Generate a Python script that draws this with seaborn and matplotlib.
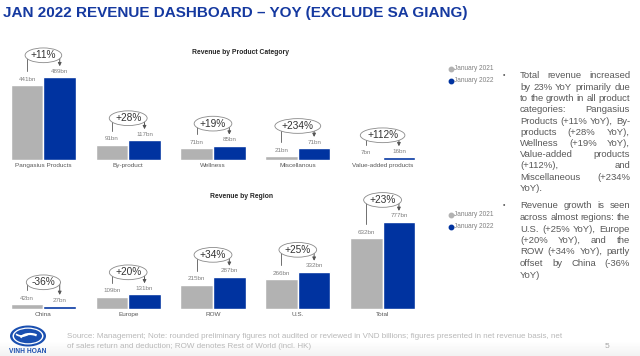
import numpy as np
import pandas as pd
import matplotlib
matplotlib.use('Agg')
import matplotlib.pyplot as plt
import seaborn as sns
from matplotlib.lines import Line2D
from matplotlib.patches import Ellipse, Arc

product_cats = ['Pangasius Products', 'By-product', 'Wellness', 'Miscellanous', 'Value-added products']
product_2021 = [441, 91, 71, 21, 7]
product_2022 = [489, 117, 85, 71, 16]
product_yoy = ['+11%', '+28%', '+19%', '+234%', '+112%']

region_cats = ['China', 'Europe', 'ROW', 'U.S.', 'Total']
region_2021 = [42, 109, 215, 266, 632]
region_2022 = [27, 131, 287, 332, 777]
region_yoy = ['-36%', '+20%', '+34%', '+25%', '+23%']

years = ['January 2021', 'January 2022']

bullet1 = ["Total revenue increased", "by 23% YoY primarily due", "to the growth in all product",
           "categories: Pangasius", "Products (+11% YoY), By-", "products (+28% YoY),",
           "Wellness (+19% YoY),", "Value-added products", "(+112%), and",
           "Miscellaneous (+234%", "YoY)."]
bullet2 = ["Revenue growth is seen", "across almost regions: the", "U.S. (+25% YoY), Europe",
           "(+20% YoY), and the", "ROW (+34% YoY), partly", "offset by China (-36%", "YoY)"]

footer = ["Source: Management; Note: rounded preliminary figures not audited or reviewed in VND billions; figures presented in net revenue basis, net",
          "of sales return and deduction; ROW denotes Rest of World (incl. HK)"]

GRAY = '#b2b2b2'
BLUE = '#0033a0'
TITLE_BLUE = '#1539a0'

sns.set_style('white')
plt.rcParams['font.family'] = ['Liberation Sans', 'DejaVu Sans']

W, H = 640, 356
fig = plt.figure(figsize=(6.4, 3.56), dpi=100)
renderer = fig.canvas.get_renderer()


def fx(px):
    return px / W


def fy(py):
    return 1 - py / H


# bottom shading
ax_bg = fig.add_axes([0, 0, 1, 14 / H], zorder=-5)
ax_bg.imshow(np.linspace(1, 0, 50).reshape(-1, 1), aspect='auto', cmap='Greys_r',
             vmin=-8, vmax=1, extent=[0, 1, 0, 1])
ax_bg.axis('off')


def draw_chart(ax, cats, v21, v22, yoy, ymax, title, title_y):
    df = pd.DataFrame({'category': cats * 2,
                       'value': v21 + v22,
                       'year': [years[0]] * len(cats) + [years[1]] * len(cats)})
    sns.barplot(data=df, x='category', y='value', hue='year', palette=[GRAY, BLUE],
                width=0.77, saturation=1, ax=ax, legend=False)
    ax.set_xlim(-0.5, len(cats) - 0.5)
    ax.set_ylim(0, ymax)
    ax.set_xlabel('')
    ax.set_ylabel('')
    ax.set_yticks([])
    ax.tick_params(axis='x', length=0, pad=2, labelsize=4.6, labelcolor='#595959')
    sns.despine(ax=ax, left=True, bottom=True)
    ax.patch.set_alpha(0)

    for cont, vals in zip(ax.containers, [v21, v22]):
        ax.bar_label(cont, labels=[f'{v}bn' for v in vals], padding=2.5,
                     fontsize=4.5, color='#7f7f7f')

    k = ymax / ax.bbox.height  # data units per pixel
    g_bars, b_bars = ax.containers[0], ax.containers[1]
    for i in range(len(cats)):
        xg = g_bars[i].get_x() + g_bars[i].get_width() / 2
        xb = b_bars[i].get_x() + b_bars[i].get_width() / 2
        top = max(v21[i], v22[i]) + 22 * k
        ax.plot([xg, xg, xb], [v21[i] + 14 * k, top, top], color='#6f6f6f', lw=0.7, zorder=2)
        ax.annotate('', xy=(xb, v22[i] + 11 * k), xytext=(xb, top),
                    arrowprops=dict(arrowstyle='-|>', color='#555555', lw=0.7,
                                    mutation_scale=5, shrinkA=0, shrinkB=0), zorder=2)
        ax.text((xg + xb) / 2, top, yoy[i], ha='center', va='center', fontsize=7.3,
                color='#333333', zorder=4,
                bbox=dict(boxstyle='ellipse,pad=0.02', fc='white', ec='#8a8a8a', lw=0.6))

    fig.text(fx(241), fy(title_y), title, ha='center', va='center', fontsize=4.9,
             fontweight='bold', color='#262626')


ax1 = fig.add_axes([fx(1), fy(160), 424 / W, 115 / H])
draw_chart(ax1, product_cats, product_2021, product_2022, product_yoy, 680,
           'Revenue by Product Category', 52)

ax2 = fig.add_axes([fx(1), fy(309), 424 / W, 124 / H])
draw_chart(ax2, region_cats, region_2021, region_2022, region_yoy, 1107,
           'Revenue by Region', 197)

# legends
for ly in (69, 215):
    for j, (lab, col) in enumerate(zip(years, [GRAY, BLUE])):
        yy = fy(ly + j * 11.5)
        fig.add_artist(Line2D([fx(451)], [yy], marker='o', ms=3.2, color=col, ls='',
                              transform=fig.transFigure))
        fig.text(fx(454), yy, lab, ha='left', va='center', fontsize=4.7, color='#808080')


# justified bullet text
def justified(lines, x0, x1, y0, dy, size=6.8, color='#595959'):
    probe = fig.text(0, 0, 'a a', fontsize=size)
    probe1 = fig.text(0, 0, 'aa', fontsize=size)
    space = probe.get_window_extent(renderer).width - probe1.get_window_extent(renderer).width
    probe.remove()
    probe1.remove()
    for i, line in enumerate(lines):
        y = fy(y0 + i * dy)
        words = line.split()
        texts = [fig.text(fx(x0), y, w, ha='left', va='center', fontsize=size, color=color)
                 for w in words]
        widths = [t.get_window_extent(renderer).width for t in texts]
        if i == len(lines) - 1 or len(words) == 1:
            gap = space
        else:
            gap = (x1 - x0 - sum(widths)) / (len(words) - 1)
        x = x0
        for t, w in zip(texts, widths):
            t.set_x(fx(x))
            x += w + gap


justified(bullet1, 520, 630, 76, 11.25)
justified(bullet2, 520, 630, 206, 11.5)
for by in (76, 206):
    fig.text(fx(504), fy(by), '•', ha='center', va='center', fontsize=5, color='#595959')

# title, sized to span the same width as the reference
title = fig.text(fx(3), fy(13), 'JAN 2022 REVENUE DASHBOARD – YOY (EXCLUDE SA GIANG)',
                 ha='left', va='center', fontsize=14, fontweight='bold', color=TITLE_BLUE)
title.set_fontsize(14 * 465 / title.get_window_extent(renderer).width)

# footer
for i, line in enumerate(footer):
    fig.text(fx(67), fy(337 + i * 10), line, ha='left', va='center', fontsize=5.8,
             color='#b8b8b8')
fig.text(fx(607), fy(347), '5', ha='center', va='center', fontsize=6, color='#a6a6a6')

# logo
ax_logo = fig.add_axes([fx(6), fy(356), 46 / W, 38 / H])
ax_logo.set_xlim(0, 46)
ax_logo.set_ylim(0, 38)
ax_logo.axis('off')
ax_logo.add_patch(Ellipse((22, 20), 36, 21, fc='#1a4fb0', ec='none'))
ax_logo.add_patch(Ellipse((22, 20), 31, 17, fc='white', ec='none'))
ax_logo.add_patch(Ellipse((22, 20), 28, 14.5, fc='#1a4fb0', ec='none'))
ax_logo.add_patch(Arc((24, 15), 22, 14, theta1=40, theta2=160, color='white', lw=1.6))
ax_logo.add_patch(Arc((16, 24), 14, 8, theta1=200, theta2=340, color='white', lw=1.2))
ax_logo.text(22, 4.5, 'VINH HOAN', ha='center', va='center', fontsize=4.8,
             fontweight='bold', color='#1a4fb0')

fig.savefig('out.png', dpi=100)
